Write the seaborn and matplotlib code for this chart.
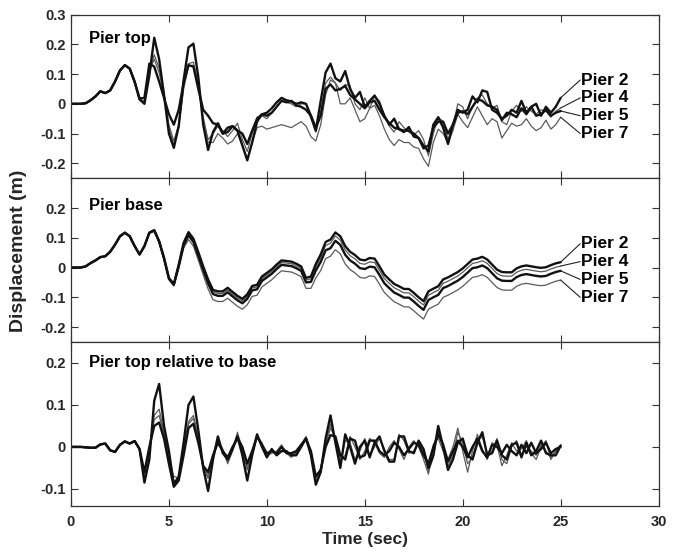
import numpy as np
import pandas as pd
import matplotlib
matplotlib.use("Agg")
import matplotlib.pyplot as plt
import seaborn as sns

DT = 0.25
PIERS = ["Pier 2", "Pier 4", "Pier 5", "Pier 7"]

# --- Pier top ---
top_p2 = [0, 0, 0, 0.002, 0.012, 0.025, 0.042, 0.036, 0.045, 0.075, 0.112, 0.130,
          0.118, 0.074, 0.015, 0.000, 0.095, 0.222, 0.150, 0.030, -0.100, -0.148, -0.075, 0.080,
          0.190, 0.202, 0.090, -0.070, -0.155, -0.095, -0.065, -0.100, -0.095, -0.075, -0.090, -0.140,
          -0.190, -0.130, -0.060, -0.035, -0.030, -0.015, 0.005, 0.020, 0.012, 0.008, 0.000, 0.005,
          0.000, -0.040, -0.090, 0.010, 0.105, 0.135, 0.086, 0.075, 0.110, 0.050, 0.020, 0.040,
          -0.010, 0.010, 0.028, 0.000, -0.040, -0.070, -0.050, -0.085, -0.095, -0.078, -0.110, -0.115,
          -0.140, -0.160, -0.070, -0.045, -0.080, -0.135, -0.070, -0.020, -0.030, -0.020, 0.025, 0.005,
          0.045, 0.040, -0.020, -0.030, -0.050, -0.040, -0.020, -0.030, 0.010, -0.030, -0.010, 0.000,
          -0.040, -0.010, -0.030, -0.010, 0.020]
top_p4 = [0, 0, 0, 0.002, 0.012, 0.025, 0.042, 0.036, 0.045, 0.075, 0.112, 0.130,
          0.118, 0.074, 0.015, 0.010, 0.105, 0.165, 0.120, 0.035, -0.070, -0.125, -0.070, 0.055,
          0.135, 0.140, 0.070, -0.045, -0.120, -0.100, -0.075, -0.090, -0.110, -0.090, -0.065, -0.120,
          -0.160, -0.100, -0.045, -0.040, -0.050, -0.030, -0.010, 0.010, 0.005, 0.000, -0.010, 0.000,
          0.000, -0.050, -0.095, -0.030, 0.070, 0.090, 0.070, 0.045, 0.065, 0.060, 0.000, -0.020,
          0.020, -0.015, 0.025, 0.010, -0.040, -0.075, -0.095, -0.060, -0.080, -0.095, -0.105, -0.090,
          -0.120, -0.175, -0.100, -0.045, -0.060, -0.120, -0.075, 0.000, -0.010, -0.050, -0.010, 0.020,
          0.030, 0.000, -0.015, -0.005, -0.060, -0.070, -0.025, -0.005, -0.025, -0.010, -0.025, -0.035,
          -0.020, -0.025, -0.045, -0.025, -0.014]
top_p5 = [0, 0, 0, 0.002, 0.012, 0.025, 0.042, 0.036, 0.045, 0.075, 0.112, 0.130,
          0.118, 0.074, 0.018, 0.020, 0.135, 0.125, 0.075, 0.020, -0.035, -0.070, -0.020, 0.070,
          0.130, 0.125, 0.050, -0.020, -0.040, -0.065, -0.070, -0.100, -0.080, -0.075, -0.090, -0.100,
          -0.135, -0.090, -0.050, -0.035, -0.040, -0.030, -0.010, 0.010, 0.005, 0.010, -0.005, -0.010,
          -0.020, -0.040, -0.080, -0.040, 0.050, 0.065, 0.045, 0.050, 0.060, 0.030, 0.015, 0.000,
          -0.015, 0.005, 0.010, -0.020, -0.045, -0.065, -0.080, -0.085, -0.090, -0.090, -0.100, -0.115,
          -0.150, -0.140, -0.080, -0.060, -0.060, -0.100, -0.070, -0.030, -0.025, -0.035, -0.010, 0.015,
          0.010, -0.005, -0.010, -0.020, -0.055, -0.030, -0.035, -0.045, -0.015, -0.035, -0.010, -0.040,
          -0.035, -0.020, -0.040, -0.030, -0.024]
top_p7 = [0, 0, 0, 0.002, 0.012, 0.025, 0.042, 0.036, 0.045, 0.075, 0.112, 0.130,
          0.118, 0.074, 0.015, 0.005, 0.110, 0.150, 0.105, 0.030, -0.080, -0.140, -0.080, 0.050,
          0.125, 0.130, 0.060, -0.055, -0.130, -0.130, -0.100, -0.115, -0.135, -0.125, -0.100, -0.140,
          -0.185, -0.130, -0.080, -0.075, -0.085, -0.080, -0.075, -0.070, -0.075, -0.080, -0.070, -0.060,
          -0.075, -0.110, -0.125, -0.070, 0.030, 0.080, 0.070, 0.000, 0.000, 0.020, -0.020, -0.060,
          -0.050, -0.015, -0.005, -0.040, -0.085, -0.120, -0.140, -0.120, -0.130, -0.130, -0.145, -0.150,
          -0.185, -0.210, -0.130, -0.085, -0.100, -0.130, -0.090, -0.035, -0.060, -0.080, -0.045, -0.010,
          -0.040, -0.070, -0.050, -0.060, -0.115, -0.090, -0.065, -0.075, -0.070, -0.050, -0.075, -0.090,
          -0.080, -0.055, -0.085, -0.070, -0.045]

# --- Pier base ---
base_p2 = [0, 0, 0, 0.004, 0.015, 0.024, 0.035, 0.038, 0.053, 0.077, 0.105, 0.117,
           0.105, 0.072, 0.044, 0.072, 0.117, 0.126, 0.089, 0.033, -0.035, -0.055, 0.010, 0.083,
           0.119, 0.097, 0.052, 0.004, -0.040, -0.075, -0.080, -0.080, -0.068, -0.082, -0.095, -0.105,
           -0.090, -0.062, -0.058, -0.030, -0.018, -0.006, 0.010, 0.024, 0.022, 0.020, 0.013, 0.004,
           -0.035, -0.030, 0.012, 0.044, 0.086, 0.094, 0.118, 0.105, 0.072, 0.053, 0.042, 0.027,
           0.024, 0.032, 0.030, 0.004, -0.024, -0.040, -0.055, -0.063, -0.072, -0.072, -0.085, -0.100,
           -0.113, -0.080, -0.071, -0.063, -0.040, -0.033, -0.024, -0.015, -0.003, 0.012, 0.027, 0.030,
           0.036, 0.027, 0.010, -0.007, -0.015, -0.016, -0.016, -0.003, 0.004, 0.007, 0.004, 0.001,
           -0.001, 0.001, 0.008, 0.014, 0.018]
base_p4 = [0, 0, 0, 0.004, 0.015, 0.024, 0.035, 0.038, 0.053, 0.077, 0.105, 0.117,
           0.105, 0.072, 0.044, 0.072, 0.117, 0.125, 0.088, 0.032, -0.036, -0.057, 0.007, 0.079,
           0.114, 0.092, 0.047, -0.002, -0.046, -0.081, -0.087, -0.087, -0.075, -0.089, -0.102, -0.112,
           -0.097, -0.069, -0.065, -0.037, -0.025, -0.013, 0.003, 0.017, 0.015, 0.013, 0.006, -0.003,
           -0.042, -0.038, 0.002, 0.033, 0.074, 0.082, 0.106, 0.092, 0.059, 0.040, 0.029, 0.014,
           0.011, 0.019, 0.017, -0.009, -0.037, -0.053, -0.068, -0.076, -0.085, -0.085, -0.098, -0.113,
           -0.126, -0.093, -0.084, -0.076, -0.053, -0.046, -0.037, -0.028, -0.016, -0.001, 0.014, 0.017,
           0.023, 0.014, -0.003, -0.020, -0.028, -0.029, -0.029, -0.016, -0.009, -0.006, -0.009, -0.012,
           -0.014, -0.012, -0.005, 0.001, 0.005]
base_p5 = [0, 0, 0, 0.004, 0.015, 0.024, 0.035, 0.038, 0.053, 0.077, 0.105, 0.117,
           0.105, 0.072, 0.044, 0.072, 0.117, 0.124, 0.087, 0.030, -0.038, -0.058, 0.004, 0.075,
           0.108, 0.086, 0.040, -0.008, -0.053, -0.089, -0.095, -0.095, -0.083, -0.097, -0.110, -0.120,
           -0.105, -0.077, -0.073, -0.045, -0.033, -0.021, -0.005, 0.009, 0.007, 0.005, -0.002, -0.011,
           -0.050, -0.048, -0.010, 0.019, 0.058, 0.065, 0.090, 0.076, 0.043, 0.024, 0.013, -0.002,
           -0.005, 0.003, 0.001, -0.025, -0.053, -0.069, -0.084, -0.092, -0.101, -0.101, -0.114, -0.129,
           -0.142, -0.109, -0.100, -0.092, -0.069, -0.062, -0.053, -0.044, -0.032, -0.017, -0.002, 0.001,
           0.007, -0.002, -0.019, -0.036, -0.044, -0.045, -0.045, -0.032, -0.025, -0.022, -0.025, -0.028,
           -0.030, -0.028, -0.021, -0.015, -0.011]
base_p7 = [0, 0, 0, 0.004, 0.015, 0.024, 0.035, 0.038, 0.053, 0.077, 0.105, 0.117,
           0.105, 0.072, 0.044, 0.072, 0.117, 0.122, 0.085, 0.028, -0.040, -0.062, -0.003, 0.065,
           0.094, 0.072, 0.025, -0.024, -0.072, -0.108, -0.114, -0.114, -0.103, -0.117, -0.130, -0.140,
           -0.125, -0.097, -0.093, -0.065, -0.053, -0.041, -0.025, -0.011, -0.013, -0.015, -0.022, -0.031,
           -0.070, -0.070, -0.035, -0.010, 0.030, 0.038, 0.060, 0.046, 0.012, -0.007, -0.018, -0.033,
           -0.036, -0.028, -0.030, -0.056, -0.084, -0.100, -0.115, -0.123, -0.132, -0.132, -0.145, -0.160,
           -0.173, -0.140, -0.131, -0.123, -0.100, -0.093, -0.084, -0.075, -0.063, -0.048, -0.033, -0.030,
           -0.024, -0.033, -0.050, -0.067, -0.075, -0.076, -0.076, -0.063, -0.056, -0.053, -0.056, -0.059,
           -0.061, -0.059, -0.052, -0.046, -0.042]

# --- Pier top relative to base ---
rel_p2 = [0, 0, 0, -0.001, -0.002, -0.002, 0.006, 0.008, -0.008, -0.012, 0.005, 0.013,
          0.008, 0.014, -0.005, -0.085, -0.030, 0.110, 0.150, 0.050, -0.010, -0.090, -0.070, 0.010,
          0.100, 0.120, 0.040, -0.050, -0.105, -0.030, 0.025, -0.015, -0.030, -0.005, 0.025, -0.020,
          -0.080, -0.020, 0.030, 0.000, -0.025, -0.005, -0.020, -0.010, -0.010, -0.020, -0.020, 0.000,
          0.020, -0.020, -0.090, -0.060, 0.020, 0.075, 0.010, -0.050, 0.030, 0.000, -0.040, 0.000,
          0.015, -0.025, 0.010, 0.025, -0.010, -0.035, -0.035, 0.025, 0.025, -0.010, -0.015, 0.015,
          -0.005, -0.050, -0.020, 0.050, 0.000, -0.055, -0.030, 0.010, 0.020, -0.020, -0.030, 0.010,
          0.035, -0.020, -0.015, 0.015, -0.020, -0.030, 0.005, 0.010, -0.025, 0.010, -0.020, -0.010,
          0.015, -0.015, -0.020, -0.020, 0.003]
rel_p4 = [0, 0, 0, -0.001, -0.002, -0.002, 0.006, 0.008, -0.008, -0.012, 0.005, 0.013,
          0.008, 0.014, -0.005, -0.070, -0.010, 0.075, 0.090, 0.035, -0.030, -0.070, -0.075, -0.005,
          0.060, 0.075, 0.025, -0.050, -0.075, -0.020, 0.020, -0.010, -0.035, -0.005, 0.035, -0.010,
          -0.055, -0.015, 0.030, 0.000, -0.020, -0.010, -0.020, 0.000, -0.010, -0.020, -0.015, 0.000,
          0.022, -0.015, -0.080, -0.060, 0.010, 0.055, 0.015, -0.040, 0.015, 0.010, -0.030, -0.010,
          0.020, -0.020, 0.000, 0.020, -0.005, -0.030, -0.030, 0.030, 0.015, -0.015, -0.010, 0.012,
          -0.010, -0.060, -0.025, 0.040, 0.005, -0.045, -0.020, 0.035, 0.010, -0.040, -0.025, 0.015,
          0.025, -0.015, -0.010, 0.020, -0.030, -0.040, 0.000, 0.015, -0.020, 0.000, -0.010, -0.020,
          0.005, -0.010, -0.025, -0.010, 0.005]
rel_p5 = [0, 0, 0, -0.001, -0.002, -0.002, 0.006, 0.008, -0.008, -0.012, 0.005, 0.013,
          0.008, 0.014, -0.005, -0.060, 0.000, 0.050, 0.058, 0.020, -0.040, -0.095, -0.080, -0.020,
          0.045, 0.055, 0.010, -0.045, -0.060, -0.020, 0.010, -0.010, -0.025, 0.000, 0.020, 0.000,
          -0.040, -0.010, 0.025, 0.005, -0.015, -0.010, -0.015, 0.000, -0.015, -0.015, -0.010, 0.005,
          0.020, -0.010, -0.070, -0.055, 0.000, 0.028, 0.025, -0.020, -0.030, 0.020, 0.015, -0.025,
          -0.020, 0.015, 0.015, -0.010, -0.020, -0.010, 0.010, 0.000, -0.020, -0.005, 0.010, 0.005,
          -0.020, -0.040, 0.000, 0.030, 0.005, -0.035, -0.010, 0.015, 0.000, -0.025, 0.000, 0.020,
          -0.010, -0.025, 0.005, 0.000, -0.015, 0.005, -0.010, -0.020, 0.005, -0.015, 0.010, -0.015,
          -0.005, 0.010, -0.015, -0.005, 0.000]
rel_p7 = [0, 0, 0, -0.001, -0.002, -0.002, 0.006, 0.008, -0.008, -0.012, 0.005, 0.013,
          0.008, 0.014, -0.005, -0.065, -0.005, 0.065, 0.075, 0.030, -0.035, -0.080, -0.080, -0.010,
          0.055, 0.068, 0.020, -0.045, -0.070, -0.025, 0.015, -0.005, -0.040, -0.010, 0.030, 0.000,
          -0.050, -0.020, 0.025, 0.010, -0.020, -0.015, -0.010, 0.005, -0.015, -0.025, -0.010, 0.005,
          0.025, -0.020, -0.075, -0.050, 0.005, 0.045, 0.020, -0.030, -0.020, 0.025, 0.000, -0.030,
          -0.010, 0.020, 0.010, -0.015, -0.025, 0.000, 0.015, -0.005, -0.030, 0.000, 0.015, 0.000,
          -0.030, -0.065, 0.005, 0.020, -0.010, -0.030, 0.000, 0.045, -0.010, -0.060, -0.010, 0.030,
          -0.005, -0.030, 0.010, 0.005, -0.045, -0.020, 0.010, -0.010, -0.005, 0.015, -0.015, -0.030,
          0.000, 0.015, -0.030, -0.010, 0.005]

PANEL_TITLES = ["Pier top", "Pier base", "Pier top relative to base"]
YTICKS = [[0.3, 0.2, 0.1, 0, -0.1, -0.2], [0.2, 0.1, 0, -0.1, -0.2], [0.2, 0.1, 0, -0.1]]
YTICK_LABELS = [["0.3", "0.2", "0.1", "0", "-0.1", "-0.2"],
                ["0.2", "0.1", "0", "-0.1", "-0.2"],
                ["0.2", "0.1", "0", "-0.1"]]
YLIMS = [(-0.25, 0.3), (-0.25, 0.3), (-0.14, 0.25)]
XTICKS = [0, 5, 10, 15, 20, 25, 30]
LABEL_Y = [0.08, 0.02, -0.04, -0.10]   # where the pier names sit (data units)

# line style per pier: thick black / thin grey
STYLE = {
    "Pier 2": ("#111111", 1.7),
    "Pier 4": ("#5a5a5a", 0.9),
    "Pier 5": ("#111111", 1.7),
    "Pier 7": ("#5a5a5a", 0.9),
}


def to_long(series):
    frames = []
    for name, vals in zip(PIERS, series):
        frames.append(pd.DataFrame({"time": np.arange(len(vals)) * DT,
                                    "disp": vals, "pier": name}))
    return pd.concat(frames, ignore_index=True)


panels = [
    to_long([top_p2, top_p4, top_p5, top_p7]),
    to_long([base_p2, base_p4, base_p5, base_p7]),
    to_long([rel_p2, rel_p4, rel_p5, rel_p7]),
]

# === Style ===
sns.set_theme(style="ticks")
plt.rcParams["font.family"] = ["Liberation Sans", "DejaVu Sans"]
plt.rcParams["font.weight"] = "bold"
plt.rcParams["axes.unicode_minus"] = False

fig = plt.figure(figsize=(6.8, 5.52), dpi=100)
fig.patch.set_facecolor("white")

left, width, h = 0.1044, 0.8641, 0.2966
bottoms = [0.0839 + 2 * h, 0.0839 + h, 0.0839]
title_y = [0.22, 0.21, 0.20]

for i, df in enumerate(panels):
    ax = fig.add_axes([left, bottoms[i], width, h])
    # thin grey lines first, thick black on top
    for pier in ["Pier 7", "Pier 4", "Pier 5", "Pier 2"]:
        color, lw = STYLE[pier]
        sns.lineplot(data=df[df["pier"] == pier], x="time", y="disp",
                     color=color, linewidth=lw, estimator=None, sort=False, ax=ax)

    # pier name labels with leader lines (top two panels)
    if i < 2:
        for pier, ly in zip(PIERS, LABEL_Y):
            end = df[df["pier"] == pier]["disp"].iloc[-1]
            ax.plot([25, 26.0], [end, ly], color="#222222", linewidth=0.8)
            ax.text(26.05, ly, pier, fontsize=12.5, fontweight="bold",
                    ha="left", va="center", color="black")

    ax.text(0.9, title_y[i], PANEL_TITLES[i], fontsize=12, fontweight="bold",
            ha="left", va="center", color="black")

    ax.set_xlim(0, 30)
    ax.set_ylim(*YLIMS[i])
    ax.set_xticks(XTICKS)
    ax.set_yticks(YTICKS[i])
    ax.set_yticklabels(YTICK_LABELS[i])
    ax.tick_params(direction="in", top=True, right=True, length=5, width=0.8,
                   color="#333333", labelsize=10.5, pad=4)
    ax.tick_params(axis="x", pad=7)
    for lab in ax.get_yticklabels() + ax.get_xticklabels():
        lab.set_fontweight("bold")
    for sp in ax.spines.values():
        sp.set_visible(True)
        sp.set_linewidth(0.9)
        sp.set_color("#333333")
    ax.set_ylabel("")
    if i < 2:
        ax.tick_params(labelbottom=False)
        ax.set_xlabel("")
    else:
        ax.set_xlabel("Time (sec)", fontsize=12.5, fontweight="bold", labelpad=2)
    ax.set_facecolor("white")
    ax.grid(False)

fig.text(0.027, 0.545, "Displacement (m)", rotation=90, fontsize=14,
         fontweight="bold", ha="center", va="center")

fig.savefig("out.png", dpi=100, facecolor="white")
